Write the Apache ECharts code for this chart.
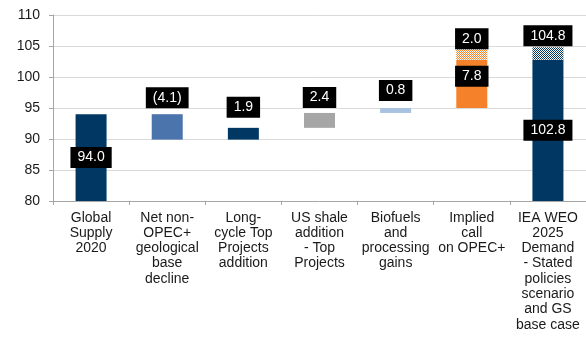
<!DOCTYPE html>
<html>
<head>
<meta charset="utf-8">
<script src="https://cdn.jsdelivr.net/npm/echarts@6/dist/echarts.min.js"></script>
<style>
  html, body { margin: 0; padding: 0; background: #fff; }
  #chart { width: 586px; height: 341px; }
</style>
</head>
<body>
<div id="chart"></div>
<script>
// Oil supply bridge, mb/d
const categories = [
  'Global\nSupply\n2020',
  'Net non-\nOPEC+\ngeological\nbase\ndecline',
  'Long-\ncycle Top\nProjects\naddition',
  'US shale\naddition\n- Top\nProjects',
  'Biofuels\nand\nprocessing\ngains',
  'Implied\ncall\non OPEC+',
  'IEA WEO\n2025\nDemand\n- Stated\npolicies\nscenario\nand GS\nbase case'
];
// Totals are absolute levels, the others are changes
const stepValues = [94.0, -4.1, 1.9, 2.4, 0.8, 7.8, 102.8];
const totalFlags = [true, false, false, false, false, false, true];
// Upper range stacked on top (hatched)
const rangeValues = [0, 0, 0, 0, 0, 2.0, 2.0];
const yMin = 80, yMax = 110, yStep = 5;

const barColors = ['#003763', '#4A74AB', '#003763', '#A6A6A6', '#A9C2DF', '#F5822A', '#003763'];
const FONT = "'Liberation Sans', Arial, sans-serif";

function checker(color) {
  const c = document.createElement('canvas');
  c.width = 2; c.height = 2;
  const ctx = c.getContext('2d');
  ctx.fillStyle = '#ffffff';
  ctx.fillRect(0, 0, 2, 2);
  ctx.fillStyle = color;
  ctx.fillRect(0, 0, 1, 1);
  ctx.fillRect(1, 1, 1, 1);
  return { image: c, repeat: 'repeat' };
}

// Running totals for the invisible base of each floating bar
const baseData = [];
const stepData = [];
let running = 0;
stepValues.forEach((v, i) => {
  if (totalFlags[i]) {
    baseData.push('-');
    stepData.push(v);
    running = v;
  } else {
    baseData.push(Math.min(running, running + v));
    stepData.push(Math.abs(v));
    running += v;
  }
});

const boxLabel = {
  show: true,
  color: '#ffffff',
  backgroundColor: '#000000',
  padding: [3, 7],
  fontSize: 14,
  fontFamily: FONT,
  lineHeight: 15
};

// Per-bar label placement for the step series
const stepLabelPos = [
  { position: 'inside' },
  { position: 'top', distance: 6 },
  { position: 'top', distance: 10 },
  { position: 'top', distance: 5 },
  { position: 'top', distance: 7 },
  { position: 'insideTop', distance: 6 },
  { position: 'inside' }
];

function fmt(v) {
  return v < 0 ? '(' + Math.abs(v).toFixed(1) + ')' : v.toFixed(1);
}

const stepSeriesData = stepData.map((v, i) => ({
  value: v,
  itemStyle: { color: barColors[i] },
  label: Object.assign({}, boxLabel, stepLabelPos[i], {
    formatter: () => fmt(stepValues[i])
  })
}));

const rangeSeriesData = rangeValues.map((v, i) => {
  if (!v) return '-';
  const shown = totalFlags[i] ? stepValues[i] + v : v;
  return {
    value: v,
    itemStyle: { color: checker(barColors[i]) },
    label: Object.assign({}, boxLabel, {
      position: 'top',
      distance: totalFlags[i] ? 1 : -2,
      formatter: () => shown.toFixed(1)
    })
  };
});

const chart = echarts.init(document.getElementById('chart'), null, { renderer: 'canvas' });
chart.setOption({
  animation: false,
  backgroundColor: '#ffffff',
  grid: { left: 53, right: -4, top: 15, bottom: 140, containLabel: false },
  xAxis: {
    type: 'category',
    data: categories,
    axisLine: { lineStyle: { color: '#A6A6A6', width: 1 } },
    axisTick: { show: true, length: 4, alignWithLabel: false, lineStyle: { color: '#A6A6A6' } },
    axisLabel: {
      interval: 0,
      color: '#1a1a1a',
      fontSize: 14,
      fontFamily: FONT,
      lineHeight: 15.3,
      margin: 9,
      align: 'center'
    },
    splitLine: { show: false }
  },
  yAxis: {
    type: 'value',
    min: yMin,
    max: yMax,
    interval: yStep,
    axisLine: { show: true, lineStyle: { color: '#A6A6A6', width: 1 } },
    axisTick: { show: true, length: 4, lineStyle: { color: '#A6A6A6' } },
    axisLabel: { color: '#1a1a1a', fontSize: 14, fontFamily: FONT, margin: 13 },
    splitLine: { lineStyle: { color: '#D9D9D9', width: 1 } }
  },
  series: [
    {
      name: 'base',
      type: 'bar',
      stack: 'bridge',
      barWidth: 31,
      silent: true,
      itemStyle: { color: 'rgba(0,0,0,0)' },
      data: baseData
    },
    {
      name: 'step',
      type: 'bar',
      stack: 'bridge',
      barWidth: 31,
      data: stepSeriesData
    },
    {
      name: 'range',
      type: 'bar',
      stack: 'bridge',
      barWidth: 31,
      data: rangeSeriesData
    }
  ]
});
</script>
</body>
</html>
